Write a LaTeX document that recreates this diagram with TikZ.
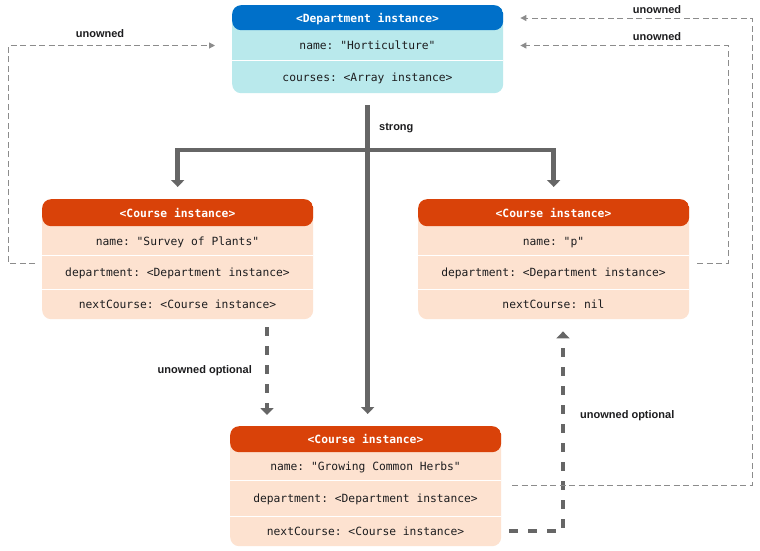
\documentclass[tikz,border=0pt]{standalone}
\usepackage{fontspec}
\setmainfont{Liberation Sans}
\setmonofont{DejaVu Sans Mono}
\usetikzlibrary{arrows.meta}
\definecolor{hdrorange}{RGB}{217,66,9}
\definecolor{bodypeach}{RGB}{253,226,208}
\definecolor{hdrblue}{RGB}{0,112,201}
\definecolor{bodycyan}{RGB}{185,233,236}
\definecolor{strongray}{RGB}{102,102,102}
\definecolor{thingray}{RGB}{140,140,140}
\definecolor{txt}{RGB}{29,29,31}
\begin{document}
\begin{tikzpicture}[x=1pt,y=-1pt,
  classbox/.style={rounded corners=9pt, anchor=north west, inner sep=0pt, minimum width=271pt},
  header/.style 2 args={path picture={\fill[#1] (path picture bounding box.north west) rectangle ([yshift=-#2]path picture bounding box.north east);}},
  rowtext/.style={font=\ttfamily\fontsize{11.3}{13}\selectfont, text=txt, inner sep=0pt, text height=8pt, text depth=0pt},
  hdrtext/.style={font=\ttfamily\bfseries\fontsize{11.3}{13}\selectfont, text=white, inner sep=0pt, text height=8pt, text depth=0pt},
  lbl/.style={font=\bfseries\fontsize{11}{13}\selectfont, text=txt, inner sep=0pt, text height=8pt, text depth=0pt},
  sepline/.style={white, line width=0.8pt},
  strongline/.style={draw=strongray, line width=4.5pt},
  bigtip/.style={-{Triangle[width=13pt,length=7pt]}},
  thickdash/.style={draw=strongray, line width=4.5pt, dash pattern=on 9pt off 10pt},
  thindash/.style={draw=thingray, line width=1pt, dash pattern=on 6pt off 3.5pt},
  smalltip/.style={-{Triangle[width=6pt,length=6pt]}}
]
\useasboundingbox (0,0) rectangle (760,550);
\fill[white] (0,0) rectangle (760,550);

% Department box
\node[classbox, fill=bodycyan, minimum height=88pt, header={hdrblue}{25pt}] (dept) at (232,5) {};
\draw[sepline] (232,60) -- (503,60);
\node[hdrtext] (depthdr) at (367.5,18) {<Department instance>};
\node[rowtext] (deptname) at (367.5,45.5) {name: "Horticulture"};
\node[rowtext] (deptcourses) at (367.5,77) {courses: <Array instance>};

% Left course
\node[classbox, fill=bodypeach, minimum height=120pt, header={hdrorange}{27pt}] (c1) at (42,199) {};
\draw[sepline] (42,255) -- (313,255);
\draw[sepline] (42,289) -- (313,289);
\node[hdrtext] (c1hdr) at (177.5,213) {<Course instance>};
\node[rowtext] (c1name) at (177.5,241) {name: "Survey of Plants"};
\node[rowtext] (c1dept) at (177.5,272) {department: <Department instance>};
\node[rowtext] (c1next) at (177.5,304.5) {nextCourse: <Course instance>};

% Right course
\node[classbox, fill=bodypeach, minimum height=120pt, header={hdrorange}{27pt}] (c2) at (418,199) {};
\draw[sepline] (418,255) -- (689,255);
\draw[sepline] (418,289) -- (689,289);
\node[hdrtext] (c2hdr) at (553.5,213) {<Course instance>};
\node[rowtext] (c2name) at (553.5,241) {name: "p"};
\node[rowtext] (c2dept) at (553.5,272) {department: <Department instance>};
\node[rowtext] (c2next) at (553.5,304.5) {nextCourse: nil};

% Bottom course
\node[classbox, fill=bodypeach, minimum height=120pt, header={hdrorange}{26pt}] (c3) at (230,426) {};
\draw[sepline] (230,480) -- (501,480);
\draw[sepline] (230,516) -- (501,516);
\node[hdrtext] (c3hdr) at (365.5,439.5) {<Course instance>};
\node[rowtext] (c3name) at (365.5,466) {name: "Growing Common Herbs"};
\node[rowtext] (c3dept) at (365.5,498) {department: <Department instance>};
\node[rowtext] (c3next) at (365.5,531) {nextCourse: <Course instance>};

% strong connectors
\coordinate (branch) at (367.5,150);
\draw[strongline, bigtip, shorten <=12pt, shorten >=12pt] (dept.south) -- (dept.south |- c3.north);
\draw[strongline, bigtip, shorten >=12pt] (branch) -| (c1.north);
\draw[strongline, bigtip, shorten >=12pt] (branch) -| (c2.north);
\node[lbl, anchor=west] (strongl) at (379,126) {strong};

% unowned optional (thick dashed)
\coordinate (lx) at (267,0);
\coordinate (rx) at (563,0);
\draw[thickdash, bigtip, shorten <=8pt, shorten >=11pt] (c1.south -| lx) -- (c3.north -| lx);
\node[lbl, anchor=east] (uo1) at (252,369) {unowned optional};
\draw[thickdash, bigtip, shorten <=8pt, shorten >=12pt] (c3.east |- c3next) -| (c2.south -| rx);
\node[lbl, anchor=west] (uo2) at (580,414) {unowned optional};

% unowned (thin dashed)
\coordinate (u1s) at (35,263);
\coordinate (u2s) at (697,263);
\coordinate (u3s) at (512,485);
\draw[thindash, smalltip, shorten >=17pt] (u1s) -- (8,263) -- (8,45.5) -- (dept.west |- deptname);
\node[lbl] (un1) at (100,33) {unowned};
\draw[thindash, smalltip, shorten >=17pt] (u2s) -- (728,263) -- (728,45.5) -- (dept.east |- deptname);
\node[lbl] (un2) at (657,36) {unowned};
\draw[thindash, smalltip, shorten >=17pt] (u3s) -- (752,485) -- (752,18) -- (dept.east |- depthdr);
\node[lbl] (un3) at (657,9) {unowned};
\end{tikzpicture}
\end{document}
